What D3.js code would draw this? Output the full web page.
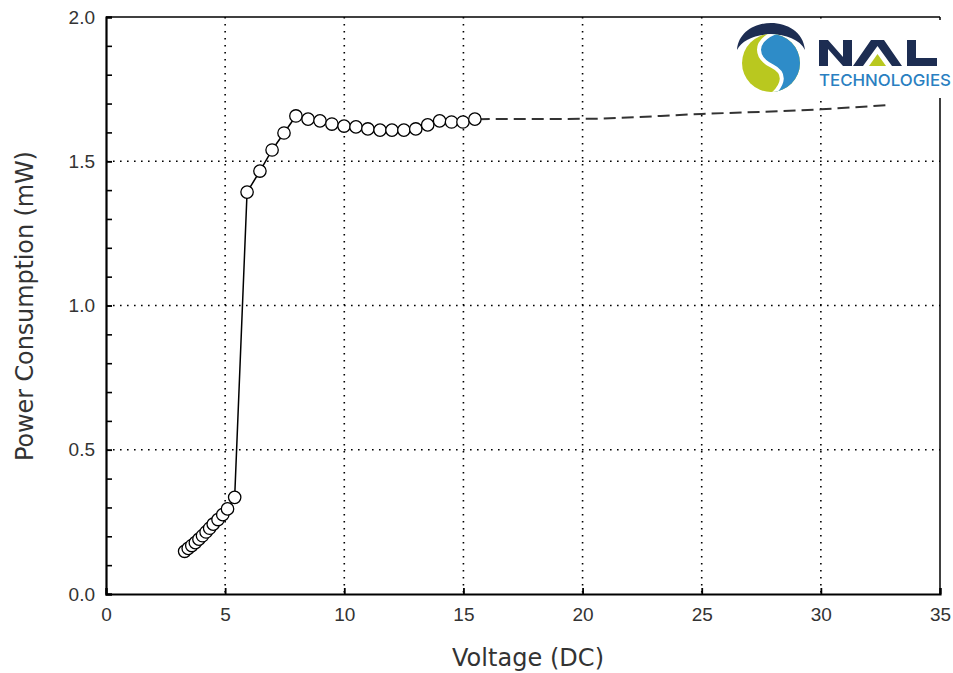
<!DOCTYPE html>
<html>
<head>
<meta charset="utf-8">
<script src="https://cdn.jsdelivr.net/npm/d3@7"></script>
<style>
  body { margin: 0; background: #fff; }
  svg { display: block; }
</style>
</head>
<body>
<svg width="953" height="673"></svg>
<script>
// measured points (circles)
const voltage = [3.3, 3.45, 3.6, 3.75, 3.9, 4.05, 4.2, 4.35, 4.5, 4.7, 4.9, 5.1, 5.4,
  5.92, 6.46, 6.97, 7.47, 7.97, 8.48, 8.98, 9.48, 9.99, 10.49, 10.99, 11.5, 12.0, 12.5,
  13.0, 13.5, 14.0, 14.5, 14.98, 15.48];
const power = [0.148, 0.158, 0.168, 0.178, 0.19, 0.202, 0.215, 0.228, 0.242, 0.258, 0.275, 0.295, 0.335,
  1.393, 1.466, 1.539, 1.598, 1.657, 1.646, 1.64, 1.629, 1.622, 1.619, 1.612, 1.608, 1.608, 1.608,
  1.612, 1.626, 1.64, 1.636, 1.636, 1.646];

// dashed extrapolation
const extVoltage = [15.6, 20, 25, 30, 32.8];
const extPower = [1.646, 1.647, 1.664, 1.68, 1.695];

const xTicks = [0, 5, 10, 15, 20, 25, 30, 35];
const yTicks = [0, 0.5, 1.0, 1.5, 2.0];
const yMinor = d3.range(0, 2.001, 0.1);

const margin = { top: 17, right: 13, bottom: 79, left: 106 },
      width = 953 - margin.left - margin.right,
      height = 673 - margin.top - margin.bottom;

const svg = d3.select("svg");
const g = svg.append("g")
  .attr("transform", `translate(${margin.left},${margin.top})`);

const x = d3.scaleLinear().domain([0, 35]).range([0, width]);
const y = d3.scaleLinear().domain([0, 2]).range([height, 0]);

// dotted grid
g.selectAll(".vgrid")
  .data(xTicks.filter(d => d > 0 && d < 35))
  .enter().append("line")
  .attr("x1", d => x(d)).attr("x2", d => x(d))
  .attr("y1", 0).attr("y2", height)
  .attr("stroke", "#000").attr("stroke-width", 1.6)
  .attr("stroke-dasharray", "1.6,5.4");

g.selectAll(".hgrid")
  .data(yTicks.filter(d => d > 0 && d < 2))
  .enter().append("line")
  .attr("x1", 0).attr("x2", width)
  .attr("y1", d => y(d)).attr("y2", d => y(d))
  .attr("stroke", "#000").attr("stroke-width", 1.6)
  .attr("stroke-dasharray", "1.6,5.4");

// right border (logo covers its top part)
g.append("line")
  .attr("x1", width).attr("x2", width)
  .attr("y1", 0).attr("y2", height)
  .attr("stroke", "#000").attr("stroke-width", 1.5);

// axes
const xAxis = g.append("g")
  .attr("transform", `translate(0,${height})`)
  .call(d3.axisBottom(x).tickValues(xTicks).tickSize(-6).tickPadding(14).tickFormat(d3.format("d")));
xAxis.select(".domain").attr("stroke-width", 2.2);
xAxis.selectAll(".tick line").attr("stroke-width", 1.8);
xAxis.selectAll("text")
  .attr("font-family", "Liberation Sans, Arial, sans-serif")
  .attr("font-size", 19).attr("fill", "#333");

const yAxisMinor = g.append("g")
  .call(d3.axisLeft(y).tickValues(yMinor).tickSize(-6).tickFormat(""));
yAxisMinor.select(".domain").remove();
yAxisMinor.selectAll(".tick line").attr("stroke-width", 1.6);

const yAxis = g.append("g")
  .call(d3.axisLeft(y).tickValues(yTicks).tickSize(-6).tickPadding(11).tickFormat(d3.format(".1f")));
yAxis.select(".domain").attr("stroke-width", 2.2);
yAxis.selectAll(".tick line").attr("stroke-width", 1.6);
yAxis.selectAll("text")
  .attr("font-family", "Liberation Sans, Arial, sans-serif")
  .attr("font-size", 19).attr("fill", "#333");

// axis titles
svg.append("text")
  .attr("x", 528).attr("y", 666)
  .attr("text-anchor", "middle")
  .attr("font-family", "DejaVu Sans, Verdana, sans-serif")
  .attr("font-size", 24).attr("fill", "#333")
  .attr("textLength", 152)
  .text("Voltage (DC)");

svg.append("text")
  .attr("transform", "translate(33,306) rotate(-90)")
  .attr("text-anchor", "middle")
  .attr("font-family", "DejaVu Sans, Verdana, sans-serif")
  .attr("font-size", 24).attr("fill", "#333")
  .attr("textLength", 310)
  .text("Power Consumption (mW)");

// data
const pts = voltage.map((v, i) => ({ v, p: power[i] }));
const ext = extVoltage.map((v, i) => ({ v, p: extPower[i] }));

const line = d3.line().x(d => x(d.v)).y(d => y(d.p));
const curve = d3.line().x(d => x(d.v)).y(d => y(d.p)).curve(d3.curveMonotoneX);

g.append("path").datum(ext)
  .attr("d", curve)
  .attr("fill", "none").attr("stroke", "#333")
  .attr("stroke-width", 2).attr("stroke-dasharray", "12,6");

g.append("path").datum(pts)
  .attr("d", line)
  .attr("fill", "none").attr("stroke", "#000").attr("stroke-width", 1.5);

g.selectAll("circle.pt")
  .data(pts)
  .enter().append("circle")
  .attr("class", "pt")
  .attr("cx", d => x(d.v)).attr("cy", d => y(d.p))
  .attr("r", 6.2)
  .attr("fill", "#fff").attr("stroke", "#000").attr("stroke-width", 1.3);

// logo
const logo = svg.append("g");
logo.append("rect")
  .attr("x", 733).attr("y", 20).attr("width", 220).attr("height", 78)
  .attr("fill", "#fff");

svg.append("defs").append("clipPath").attr("id", "logoClip")
  .append("circle").attr("cx", 771).attr("cy", 63).attr("r", 29);

logo.append("path")
  .attr("d", "M737,50 C740,14 802,14 805,50 C795,29 747,29 737,50 Z")
  .attr("fill", "#1d2d52");

const disc = logo.append("g").attr("clip-path", "url(#logoClip)");
disc.append("rect").attr("x", 740).attr("y", 30).attr("width", 65).attr("height", 66)
  .attr("fill", "#b9c81f");
disc.append("path")
  .attr("d", "M776,32 C752,42 756,58 772,66 C786,73 784,84 772,95 L805,95 L805,30 Z")
  .attr("fill", "#2e8cc8");
disc.append("path")
  .attr("d", "M776,32 C752,42 756,58 772,66 C786,73 784,84 772,95")
  .attr("fill", "none").attr("stroke", "#fff").attr("stroke-width", 4);

// N, A, L letter shapes
logo.append("path")
  .attr("d", "M819,66 L819,40 L828,40 L843,57 L843,40 L852,40 L852,66 L843,66 L828,49 L828,66 Z")
  .attr("fill", "#1d2d52");
logo.append("path")
  .attr("d", "M853,66 L871,40 L884,40 L902,66 L892,66 L877.5,46 L863,66 Z")
  .attr("fill", "#1d2d52");
logo.append("path")
  .attr("d", "M869,66 L877.5,54 L886,66 Z")
  .attr("fill", "#b9c81f");
logo.append("path")
  .attr("d", "M907,40 L916,40 L916,58 L937,58 L937,66 L907,66 Z")
  .attr("fill", "#1d2d52");
logo.append("text")
  .attr("x", 819).attr("y", 86)
  .attr("font-family", "Inter, Roboto, sans-serif")
  .attr("font-weight", 500).attr("font-size", 16)
  .attr("textLength", 132).attr("lengthAdjust", "spacingAndGlyphs")
  .attr("fill", "#2a7fc1")
  .text("TECHNOLOGIES");

// top border drawn over the logo box
g.append("line")
  .attr("x1", 0).attr("x2", width)
  .attr("y1", 0).attr("y2", 0)
  .attr("stroke", "#000").attr("stroke-width", 1.5);
</script>
</body>
</html>
